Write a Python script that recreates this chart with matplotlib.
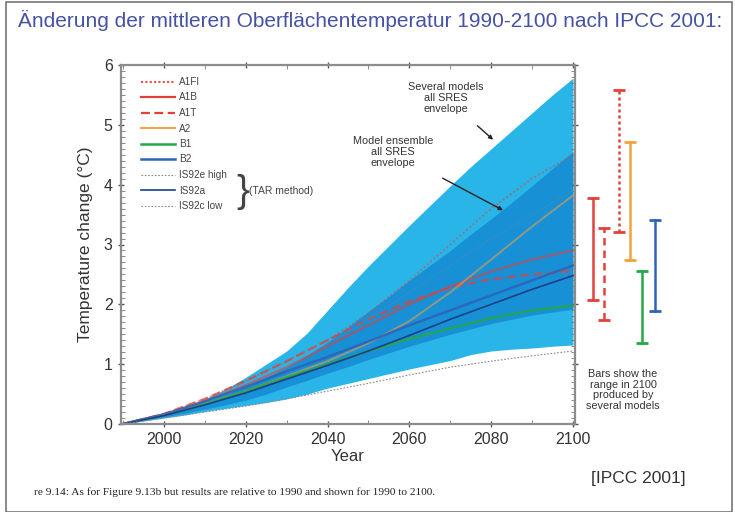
import numpy as np
import matplotlib
matplotlib.use("Agg")
import matplotlib.pyplot as plt
from matplotlib.patches import Rectangle

plt.rcParams['font.family'] = ['Liberation Sans', 'DejaVu Sans']

# ---- data ----
years5 = list(range(1990, 2101, 5))
outer_hi = [0, 0.07, 0.17, 0.28, 0.42, 0.58, 0.78, 1.00, 1.22, 1.52, 1.90, 2.28,
            2.64, 2.98, 3.32, 3.65, 3.98, 4.30, 4.60, 4.90, 5.20, 5.50, 5.78]
outer_lo = [0, 0.05, 0.10, 0.15, 0.21, 0.26, 0.31, 0.36, 0.42, 0.50, 0.60, 0.68,
            0.76, 0.84, 0.92, 0.99, 1.06, 1.16, 1.22, 1.25, 1.27, 1.30, 1.32]
ens_hi = [0, 0.07, 0.15, 0.25, 0.36, 0.48, 0.62, 0.78, 0.95, 1.15, 1.37, 1.62,
          1.88, 2.13, 2.40, 2.65, 2.90, 3.17, 3.43, 3.70, 3.98, 4.27, 4.55]
ens_lo = [0, 0.06, 0.12, 0.18, 0.25, 0.32, 0.40, 0.50, 0.62, 0.73, 0.85, 0.96,
          1.08, 1.19, 1.30, 1.40, 1.50, 1.59, 1.68, 1.75, 1.82, 1.87, 1.92]

years = [1990, 2000, 2010, 2020, 2030, 2040, 2050, 2060, 2070, 2080, 2090, 2100]
A1FI = [0, 0.17, 0.42, 0.72, 1.05, 1.40, 1.85, 2.40, 3.00, 3.60, 4.10, 4.50]
A1B = [0, 0.16, 0.38, 0.65, 0.95, 1.30, 1.65, 2.00, 2.30, 2.55, 2.75, 2.90]
A1T = [0, 0.17, 0.42, 0.72, 1.05, 1.40, 1.75, 2.05, 2.28, 2.42, 2.50, 2.56]
A2 = [0, 0.15, 0.33, 0.55, 0.80, 1.05, 1.35, 1.72, 2.20, 2.75, 3.30, 3.82]
B1 = [0, 0.15, 0.33, 0.55, 0.78, 1.00, 1.22, 1.42, 1.60, 1.77, 1.90, 1.98]
B2 = [0, 0.16, 0.38, 0.62, 0.88, 1.12, 1.38, 1.65, 1.90, 2.15, 2.40, 2.65]
IS92e = [0, 0.16, 0.40, 0.70, 1.00, 1.35, 1.75, 2.20, 2.65, 3.10, 3.50, 3.90]
IS92a = [0, 0.14, 0.32, 0.52, 0.75, 0.98, 1.22, 1.48, 1.75, 2.00, 2.25, 2.48]
IS92c = [0, 0.10, 0.20, 0.30, 0.42, 0.55, 0.68, 0.82, 0.95, 1.05, 1.14, 1.22]

# ranges in 2100 (bars right of the axes)
bar_names = ['A1B', 'A1T', 'A1FI', 'A2', 'B1', 'B2']
bar_lo = [2.07, 1.74, 3.21, 2.74, 1.35, 1.89]
bar_hi = [3.78, 3.28, 5.58, 4.72, 2.56, 3.41]
bar_x = [2105, 2107.7, 2111.3, 2114, 2117, 2120]

red = '#e2413a'
orange = '#f2a23c'
green = '#25a845'
blue = '#2f62b8'
gray = '#8a8a8a'

fig = plt.figure(figsize=(7.35, 5.12), dpi=100)
ax = fig.add_axes([121/735, 1-424/512, 454/735, 359/512])

ax.fill_between(years5, outer_lo, outer_hi, color='#29b5e8', lw=0)
ax.fill_between(years5, ens_lo, ens_hi, color='#1890d6', lw=0)

lA1FI, = ax.plot(years, A1FI, color=red, ls=(0, (1.2, 1.2)), lw=1.3, alpha=0.5, label='A1FI')
lA1B, = ax.plot(years, A1B, color=red, ls='-', lw=1.6, alpha=0.6, label='A1B')
lA1T, = ax.plot(years, A1T, color=red, ls=(0, (4, 2)), lw=1.6, alpha=0.75, label='A1T')
lA2, = ax.plot(years, A2, color=orange, lw=1.4, alpha=0.55, label='A2')
lB1, = ax.plot(years, B1, color=green, lw=1.8, alpha=0.85, label='B1')
lB2, = ax.plot(years, B2, color=blue, lw=1.8, alpha=0.85, label='B2')
lIe, = ax.plot(years, IS92e, color=gray, ls=(0, (1.5, 1.5)), lw=0.8, alpha=0.4, label='IS92e high')
lIa, = ax.plot(years, IS92a, color='#1c3f8a', lw=1.2, label='IS92a')
lIc, = ax.plot(years, IS92c, color=gray, ls=(0, (1.5, 1.5)), lw=0.8, label='IS92c low')

# bars showing the range in 2100
bar_style = {'A1B': (red, '-'), 'A1T': (red, (0, (3, 2))), 'A1FI': (red, (0, (1.2, 1.2))),
             'A2': (orange, '-'), 'B1': (green, '-'), 'B2': (blue, '-')}
for name, x, lo, hi in zip(bar_names, bar_x, bar_lo, bar_hi):
    c, ls = bar_style[name]
    ax.plot([x, x], [lo, hi], color=c, ls=ls, lw=1.8, clip_on=False)
    ax.plot([x, x], [lo, hi], color=c, ls='none', marker='_', ms=8, mew=2, clip_on=False)

ax.set_xlim(1989.5, 2100.5)
ax.set_ylim(0, 6)
ax.set_xticks([2000, 2020, 2040, 2060, 2080, 2100])
ax.set_xticks(np.arange(1990, 2101, 10), minor=True)
ax.set_yticks(range(7))
ax.set_yticks(np.arange(0, 6.01, 0.1), minor=True)
ax.tick_params(axis='both', which='major', labelsize=11.5, colors='#555', labelcolor='#333',
               length=5, width=1, direction='inout', top=True, right=True)
ax.tick_params(axis='both', which='minor', colors='#777', length=3, width=0.6,
               direction='in', top=True, right=True)
for s in ax.spines.values():
    s.set_color('#8c8c8c')
    s.set_linewidth(1.6)
ax.set_xlabel('Year', fontsize=12, color='#333', labelpad=1)
ax.set_ylabel('Temperature change (\u00b0C)', fontsize=12.5, color='#333', labelpad=8)

leg = ax.legend(handles=[lA1FI, lA1B, lA1T, lA2, lB1, lB2, lIe, lIa, lIc],
                loc='upper left', bbox_to_anchor=(136/735, 1-72/512),
                bbox_transform=fig.transFigure, frameon=False, fontsize=7.2,
                handlelength=3.4, handletextpad=0.4, labelspacing=0.55, borderpad=0)
for t in leg.get_texts():
    t.set_color('#444')
for h in leg.get_lines():
    h.set_alpha(1)

fig.text(236/735, 1-192/512, '}', fontsize=28, color='#444', va='center', ha='left',
         fontweight='light')
fig.text(249/735, 1-191/512, '(TAR method)', fontsize=7.5, color='#444', va='center')

ax.annotate('Several models\nall SRES\nenvelope', xy=(2081, 4.72), xytext=(2069, 5.45),
            fontsize=7.8, color='#333', ha='center', va='center', linespacing=1.1,
            arrowprops=dict(arrowstyle='-|>', color='#222', lw=1, mutation_scale=6,
                            shrinkA=10))
ax.annotate('Model ensemble\nall SRES\nenvelope', xy=(2083.5, 3.55), xytext=(2056, 4.55),
            fontsize=7.8, color='#333', ha='center', va='center', linespacing=1.1,
            arrowprops=dict(arrowstyle='-|>', color='#222', lw=1, mutation_scale=6,
                            shrinkA=12))

fig.text(623/735, 1-390/512, 'Bars show the\nrange in 2100\nproduced by\nseveral models',
         fontsize=7.8, color='#333', ha='center', va='center', linespacing=1.05)

fig.text(18/735, 1-20/512,
         '\u00c4nderung der mittleren Oberfl\u00e4chentemperatur 1990-2100 nach IPCC 2001:',
         fontsize=15, color='#4652a6', va='center', ha='left')
fig.text(638/735, 1-479/512, '[IPCC 2001]', fontsize=12.5, color='#333', ha='center',
         va='center')
fig.text(34/735, 1-492/512,
         're 9.14: As for Figure 9.13b but results are relative to 1990 and shown for 1990 to 2100.',
         fontsize=8.2, color='#222', family='Liberation Serif', va='center')

fig.patches.append(Rectangle((6/735, 0), 726/735, 1-2/512, transform=fig.transFigure,
                             fill=False, ec='#777', lw=1.2))

fig.savefig('out.png', dpi=100)
